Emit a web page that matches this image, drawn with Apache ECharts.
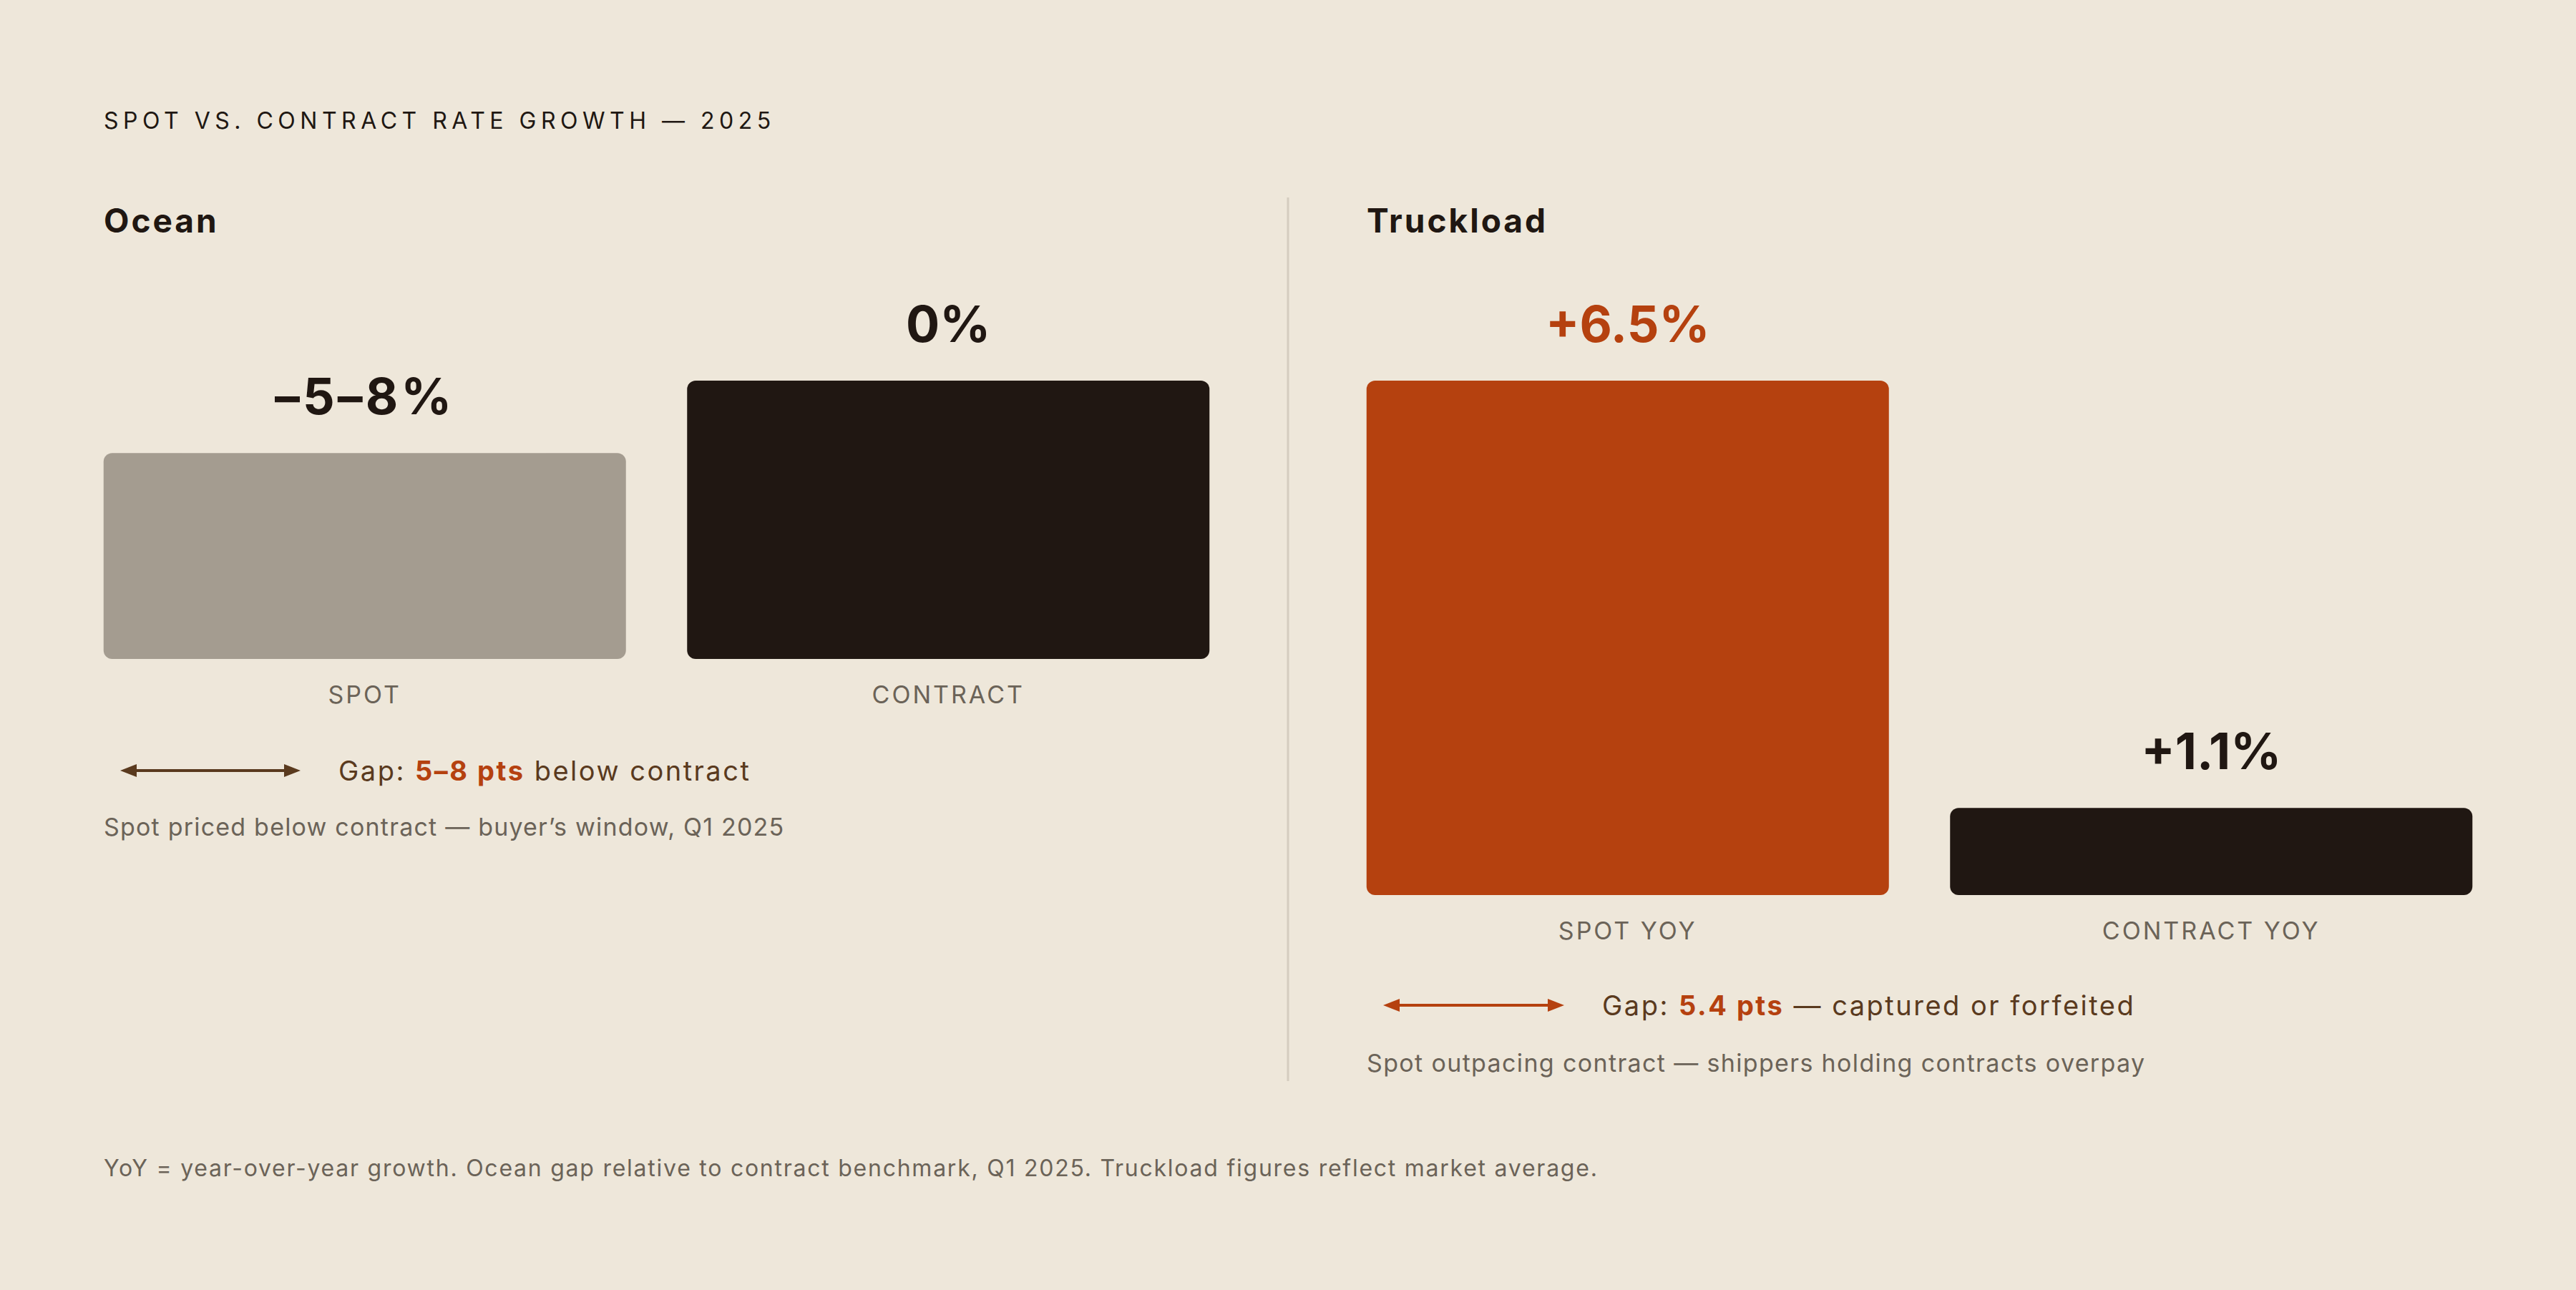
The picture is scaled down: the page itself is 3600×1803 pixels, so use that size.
<!DOCTYPE html>
<html><head><meta charset="utf-8">
<script src="https://cdn.jsdelivr.net/npm/echarts@6/dist/echarts.min.js"></script>
<style>html,body{margin:0;padding:0;background:#EEE7DA;}#chart{width:3600px;height:1803px;}</style>
</head><body><div id="chart"></div>
<script>
// ---- data ----
const titleText = 'SPOT VS. CONTRACT RATE GROWTH — 2025';
const oceanTitle = 'Ocean';
const truckTitle = 'Truckload';
const oceanCategories = ['SPOT', 'CONTRACT'];
const oceanChange = [-6.5, 0];          // % vs contract benchmark (spot −5 to −8, midpoint)
const oceanLabels = ['–5–8%', '0%'];
const oceanFloor = -25;                 // bar baseline of the ocean panel
const truckCategories = ['SPOT YOY', 'CONTRACT YOY'];
const truckValues = [6.5, 1.1];
const truckLabels = ['+6.5%', '+1.1%'];
const oceanGapTokens = ['Gap: ', '5–8 pts', ' below contract'];
const truckGapTokens = ['Gap: ', '5.4 pts', ' — captured or forfeited'];
const oceanNote = 'Spot priced below contract — buyer\u2019s window, Q1 2025';
const truckNote = 'Spot outpacing contract — shippers holding contracts overpay';
const footerText = 'YoY = year-over-year growth. Ocean gap relative to contract benchmark, Q1 2025. Truckload figures reflect market average.';

// ---- styles ----
const FF = 'Inter, "DejaVu Sans", sans-serif';
const C = { bg:'#EEE7DA', ink:'#201712', grey:'#A49C90', rust:'#B5410F', muted:'#6B6358', brown:'#5A3A1E', rule:'#D5CDBF' };
const oceanColors = [C.grey, C.ink];
const oceanLabelColors = [C.ink, C.ink];
const truckColors = [C.rust, C.ink];
const truckLabelColors = [C.rust, C.ink];

const chart = echarts.init(document.getElementById('chart'), null, { renderer: 'svg', width: 3600, height: 1803 });

function barSeries(idx, vals, colors, labels, labelColors) {
  return {
    type: 'bar', xAxisIndex: idx, yAxisIndex: idx, barWidth: 730,
    data: vals.map((v, i) => ({ value: v, itemStyle: { color: colors[i], borderRadius: 12 },
      label: { color: labelColors[i] } })),
    label: { show: true, position: 'top', distance: 45, fontFamily: FF, fontSize: 70, fontWeight: 'bold',
      formatter: p => labels[p.dataIndex] },
    silent: true
  };
}
function catAxis(idx, cats) {
  return { type: 'category', gridIndex: idx, data: cats, axisLine: { show: false }, axisTick: { show: false },
    axisLabel: { fontFamily: FF, fontSize: 34, color: C.muted, margin: 32 } };
}
function txt(x, y, text, font, fill) {
  return { type: 'text', x, y, silent: true, style: { text, font, fill, textAlign: 'left', textVerticalAlign: 'middle', align: 'left', verticalAlign: 'middle' } };
}
function arrow(x1, x2, y, color) {
  return [
    { type: 'line', silent: true, shape: { x1: x1 + 10, y1: y, x2: x2 - 10, y2: y }, style: { stroke: color, lineWidth: 4 } },
    { type: 'polygon', silent: true, shape: { points: [[x1, y], [x1 + 23, y - 9], [x1 + 23, y + 9]] }, style: { fill: color } },
    { type: 'polygon', silent: true, shape: { points: [[x2, y], [x2 - 23, y - 9], [x2 - 23, y + 9]] }, style: { fill: color } }
  ];
}
function gapText(x, y, tokens) {
  return { type: 'text', x, y, silent: true, style: {
    text: '{a|' + tokens[0] + '}{b|' + tokens[1] + '}{a|' + tokens[2] + '}', textVerticalAlign: 'middle', verticalAlign: 'middle',
    rich: { a: { fontFamily: FF, fontSize: 38, fill: C.brown, color: C.brown },
            b: { fontFamily: FF, fontSize: 38, fontWeight: 'bold', fill: C.rust, color: C.rust } } } };
}

const oceanHeights = oceanChange.map(v => v - oceanFloor);

chart.setOption({
  backgroundColor: C.bg,
  animation: false,
  grid: [
    { left: 102, width: 1631, top: 532, height: 389 },
    { left: 1867, width: 1631, top: 532, height: 719 }
  ],
  xAxis: [catAxis(0, oceanCategories), catAxis(1, truckCategories)],
  yAxis: [
    { type: 'value', gridIndex: 0, min: 0, max: 0 - oceanFloor, show: false },
    { type: 'value', gridIndex: 1, min: 0, max: 6.5, show: false }
  ],
  series: [
    barSeries(0, oceanHeights, oceanColors, oceanLabels, oceanLabelColors),
    barSeries(1, truckValues, truckColors, truckLabels, truckLabelColors)
  ],
  graphic: [
    txt(145, 168, titleText, '400 32px ' + FF, C.ink),
    txt(145, 308, oceanTitle, 'bold 46px ' + FF, C.ink),
    txt(1910, 308, truckTitle, 'bold 46px ' + FF, C.ink),
    { type: 'line', silent: true, shape: { x1: 1800, y1: 276, x2: 1800, y2: 1511 }, style: { stroke: C.rule, lineWidth: 3 } },
    ...arrow(168, 420, 1077, C.brown),
    gapText(473, 1077, oceanGapTokens),
    txt(145, 1155, oceanNote, '400 34px ' + FF, C.muted),
    ...arrow(1933, 2186, 1405, C.rust),
    gapText(2239, 1405, truckGapTokens),
    txt(1910, 1485, truckNote, '400 34px ' + FF, C.muted),
    txt(145, 1632, footerText, '400 32px ' + FF, C.muted)
  ]
});

const spacing = {};
spacing[titleText] = 6.5;
spacing[oceanTitle] = 3; spacing[truckTitle] = 3;
oceanCategories.concat(truckCategories).forEach(c => spacing[c] = 3);
spacing[oceanLabels[0]] = 4;
spacing[oceanNote] = 1.2; spacing[truckNote] = 1.35;
spacing[footerText] = 1.75;
const GAP_LS = 2.5;

function applySpacing() {
  const texts = Array.from(document.querySelectorAll('#chart text'));
  texts.forEach(t => {
    if (t.dataset.ls) return;
    const s = t.textContent;
    if (spacing[s] !== undefined) { t.setAttribute('letter-spacing', spacing[s]); t.dataset.ls = '1'; }
  });
  [oceanGapTokens, truckGapTokens].forEach(tokens => {
    for (let i = 0; i + 2 < texts.length; i++) {
      if (texts[i].textContent === tokens[0] && texts[i + 1].textContent === tokens[1] && texts[i + 2].textContent === tokens[2]) {
        if (texts[i].dataset.ls) break;
        let shift = 0;
        for (let k = 0; k < 3; k++) {
          const el = texts[i + k];
          const x = parseFloat(el.getAttribute('x') || '0');
          el.setAttribute('x', x + shift);
          el.setAttribute('letter-spacing', GAP_LS);
          el.dataset.ls = '1';
          shift += tokens[k].length * GAP_LS;
        }
        break;
      }
    }
  });
}
chart.on('finished', applySpacing);
setTimeout(applySpacing, 50);
</script></body></html>
